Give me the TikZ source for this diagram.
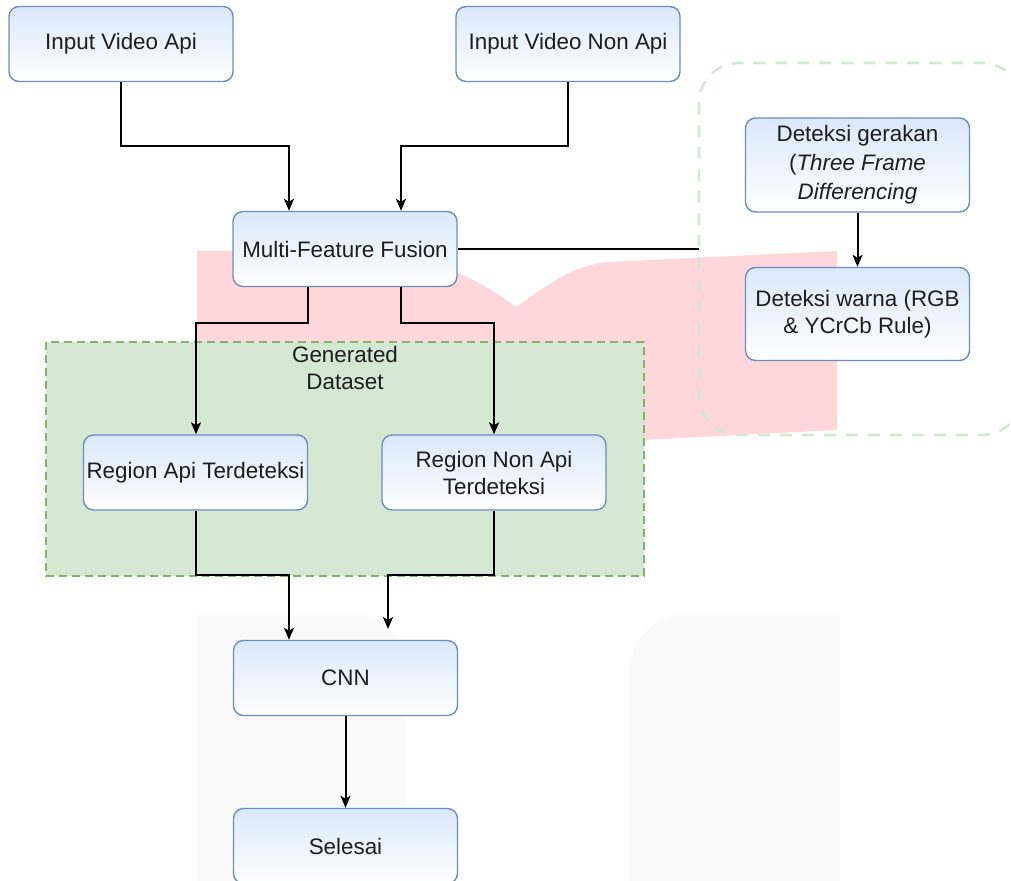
\documentclass[tikz,border=0pt]{standalone}
\usepackage{fontspec}
\setmainfont{Liberation Sans}
\usepackage{tikz}
\usetikzlibrary{calc,arrows.meta}

\definecolor{boxtop}{RGB}{218,232,252}
\definecolor{boxline}{RGB}{108,142,191}
\definecolor{setfill}{RGB}{213,232,212}
\definecolor{setedge}{RGB}{130,179,102}
\definecolor{groupedge}{RGB}{213,232,212}
\definecolor{pinkwm}{RGB}{255,214,218}
\definecolor{greywm}{RGB}{250,250,250}
\definecolor{textgrey}{RGB}{30,30,30}

\begin{document}
\begin{tikzpicture}[x=0.5pt,y=-0.5pt,
    box/.style={draw=boxline,line width=0.7pt,rounded corners=5pt,top color=boxtop,bottom color=white,
                minimum width=112pt,minimum height=37.5pt,align=center,inner sep=1pt,text=textgrey,
                font=\fontsize{11.2}{13.5}\selectfont},
    link/.style={black,line width=1pt},
    arr/.style={link,-{Stealth[length=6pt,width=5pt,inset=1.5pt]}}]
  \useasboundingbox (0,0) rectangle (1011,881);

  % faint marks behind the chart
  \fill[pinkwm] (197,251) -- (330,251) .. controls (430,251) and (480,280) .. (516,307)
                .. controls (550,283) and (575,264) .. (610,262) -- (837,251) -- (837,430)
                -- (643,440) -- (197,440) -- cycle;
  \fill[greywm] (197,881) -- (197,614) -- (355,614) .. controls (383,614) and (405,636) .. (405,664) -- (405,881) -- cycle;
  \fill[greywm] (629,881) -- (629,670) .. controls (632,636) and (655,614) .. (690,614) -- (840,614) -- (840,881) -- cycle;

  % groups
  \draw[setedge,fill=setfill,line width=0.7pt,dash pattern=on 4pt off 2.5pt] (46,342) rectangle (644,576);
  \node[anchor=north,align=center,text=textgrey,font=\fontsize{11.2}{13.5}\selectfont](setlabel)at(345,339){Generated\\Dataset};
  \draw[groupedge,line width=1.3pt,dash pattern=on 6pt off 5pt,rounded corners=20pt] (699,63) rectangle (1022,435);

  % steps
  \node[box](inapi)at(121,44){Input Video Api};
  \node[box](innon)at(568,44){Input Video Non Api};
  \node[box](fusion)at(345,249){Multi-Feature Fusion};
  \node[box,minimum height=47pt,font=\fontsize{11.2}{14.5}\selectfont](motion)at(857.5,165){Deteksi gerakan\\(\textit{Three Frame}\\\textit{Differencing}};
  \node[box,minimum height=46.5pt](color)at(857.5,314){Deteksi warna (RGB\\\& YCrCb Rule)};
  \node[box](regapi)at(195.5,472.5){Region Api Terdeteksi};
  \node[box](regnon)at(494,472.5){Region Non Api\\Terdeteksi};
  \node[box](cnn)at(345.5,678){CNN};
  \node[box](done)at(345.5,846){Selesai};

  \coordinate (groupin) at (699,249);
  \coordinate (cnnin) at (388,629);

  % connectors
  \draw[arr](inapi.south)|-(289,146)--(289,146|-fusion.north);
  \draw[arr](innon.south)|-(401,146)--(401,146|-fusion.north);
  \draw[link](fusion.east)--(groupin);
  \draw[arr](motion)--(color);
  \draw[arr](fusion.south-|308,0)|-(196,323)--(196,323|-regapi.north);
  \draw[arr](fusion.south-|401,0)|-(494,323)--(regnon.north);
  \draw[arr](regapi.south)|-(289,575)--(289,575|-cnn.north);
  \draw[arr](regnon.south)|-(388,575)--(cnnin);
  \draw[arr](cnn)--(done);
\end{tikzpicture}
\end{document}
